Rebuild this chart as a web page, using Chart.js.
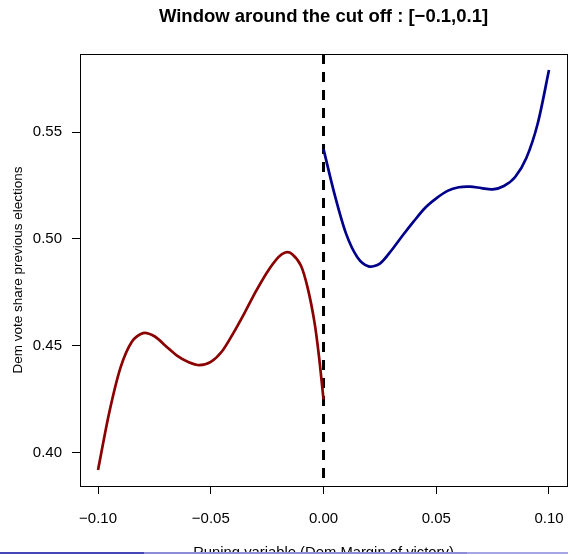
<!DOCTYPE html>
<html>
<head>
<meta charset="utf-8">
<script src="https://cdn.jsdelivr.net/npm/chart.js@4"></script>
<style>
  html, body { margin: 0; padding: 0; background: #fff; overflow: hidden; width: 568px; height: 554px; }
  #wrap { position: relative; width: 568px; height: 554px; overflow: hidden; }
  canvas { position: absolute; left: 0; top: 0; }
  .nav { position: absolute; top: 552px; height: 2px; }
</style>
</head>
<body>
<div id="wrap">
  <canvas id="rdd" width="580" height="580"></canvas>
  <div class="nav" style="left:0;width:144px;background:#4646b8"></div>
  <div class="nav" style="left:144px;width:323px;background:#8c8cd8"></div>
  <div class="nav" style="left:467px;width:101px;background:#a6a6e4"></div>
</div>
<script>
// left of the cut off (red fit)
const redX = [-0.100, -0.095, -0.090, -0.085, -0.080, -0.075, -0.070, -0.065, -0.060, -0.055,
              -0.050, -0.045, -0.040, -0.035, -0.030, -0.025, -0.020, -0.017, -0.014, -0.010,
              -0.007, -0.004, -0.002, 0.000];
const redY = [0.392, 0.419, 0.440, 0.452, 0.456, 0.4545, 0.450, 0.4455, 0.4425, 0.441,
              0.4425, 0.4475, 0.456, 0.4655, 0.4755, 0.4845, 0.4915, 0.4937, 0.493, 0.4875,
              0.477, 0.461, 0.445, 0.425];

// right of the cut off (blue fit)
const blueX = [0.000, 0.005, 0.010, 0.015, 0.020, 0.025, 0.030, 0.035, 0.040, 0.045,
               0.050, 0.055, 0.060, 0.065, 0.070, 0.075, 0.080, 0.085, 0.090, 0.095, 0.100];
const blueY = [0.542, 0.5205, 0.5025, 0.4915, 0.4872, 0.4885, 0.4945, 0.5015, 0.5082, 0.5145,
               0.519, 0.5225, 0.5242, 0.5245, 0.5238, 0.5232, 0.5248, 0.529, 0.538, 0.554, 0.579];

const xTicks = [-0.10, -0.05, 0.00, 0.05, 0.10];
const yTicks = [0.40, 0.45, 0.50, 0.55];
const xRange = [-0.108, 0.108];
const yRange = [0.3845, 0.5865];
const cutoff = 0;

const fmt = v => (v < 0 ? '\u2212' : '') + Math.abs(v).toFixed(2);
const toPts = (xs, ys) => xs.map((x, i) => ({ x: x, y: ys[i] }));

const frame = {
  id: 'frame',
  afterDraw(chart) {
    const { ctx, chartArea: a } = chart;
    ctx.save();
    ctx.strokeStyle = '#000';
    ctx.lineWidth = 1;
    ctx.strokeRect(a.left + 0.5, a.top + 0.5, a.right - a.left, a.bottom - a.top);
    ctx.font = 'bold 18.5px "Liberation Sans", Arial, sans-serif';
    ctx.fillStyle = '#000';
    ctx.textAlign = 'center';
    ctx.textBaseline = 'middle';
    ctx.fillText('Window around the cut off : [\u22120.1,0.1]', (a.left + a.right) / 2, 17);
    ctx.restore();
  }
};

const ctx = document.getElementById('rdd').getContext('2d');
const rddChart = new Chart(ctx, {
  type: 'line',
  data: {
    datasets: [
      {
        data: toPts(redX, redY),
        borderColor: '#8B0000',
        borderWidth: 2.7,
        pointRadius: 0,
        tension: 0.3
      },
      {
        data: toPts(blueX, blueY),
        borderColor: '#00008B',
        borderWidth: 2.7,
        pointRadius: 0,
        tension: 0.3
      },
      {
        data: [{ x: cutoff, y: yRange[1] }, { x: cutoff, y: yRange[0] }],
        borderColor: '#000',
        borderWidth: 3,
        borderDash: [10, 8],
        pointRadius: 0
      }
    ]
  },
  options: {
    responsive: false,
    animation: false,
    layout: { padding: { left: 0, right: 11, top: 54, bottom: 0 } },
    plugins: { legend: { display: false }, tooltip: { enabled: false } },
    scales: {
      x: {
        type: 'linear',
        min: xRange[0],
        max: xRange[1],
        afterBuildTicks: s => { s.ticks = xTicks.map(v => ({ value: v })); },
        afterFit: s => { s.height = 94; },
        grid: { drawOnChartArea: false, tickLength: 8, color: '#000' },
        border: { color: '#000' },
        ticks: {
          padding: 16,
          color: '#000',
          maxRotation: 0,
          font: { family: '"Liberation Sans", Arial', size: 15 },
          callback: v => fmt(v)
        },
        title: {
          display: true,
          text: 'Runing variable (Dem Margin of victory)',
          color: '#000',
          font: { family: '"Liberation Sans", Arial', size: 14.8 },
          padding: { top: 0, bottom: 18 }
        }
      },
      y: {
        min: yRange[0],
        max: yRange[1],
        afterBuildTicks: s => { s.ticks = yTicks.map(v => ({ value: v })); },
        afterFit: s => { s.width = 80; },
        grid: { drawOnChartArea: false, tickLength: 8, color: '#000' },
        border: { color: '#000' },
        ticks: {
          padding: 10,
          color: '#000',
          font: { family: '"Liberation Sans", Arial', size: 15 },
          callback: v => fmt(v)
        },
        title: {
          display: true,
          text: 'Dem vote share previous elections',
          color: '#000',
          font: { family: '"Liberation Sans", Arial', size: 13.5 },
          padding: { top: 10, bottom: 0 }
        }
      }
    }
  },
  plugins: [frame]
});
</script>
</body>
</html>
